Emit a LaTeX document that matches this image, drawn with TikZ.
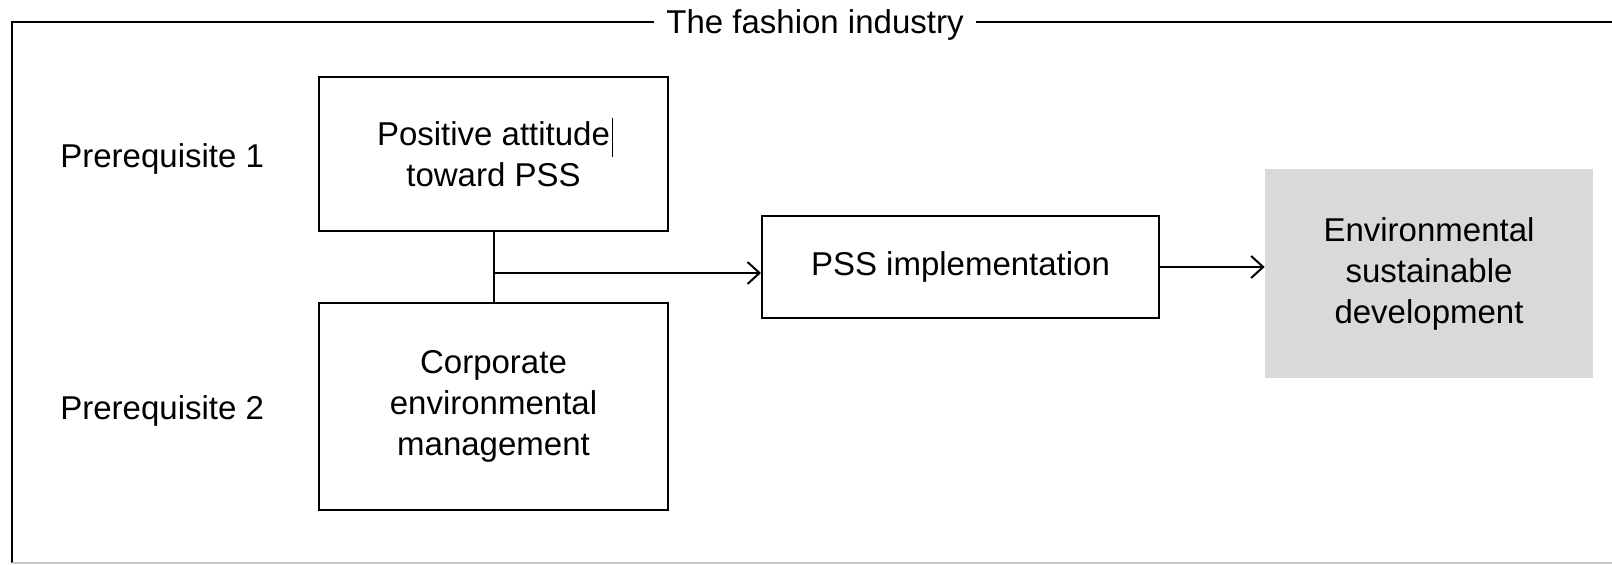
\documentclass[tikz,border=0pt]{standalone}
\usepackage{fontspec}
\setmainfont{Liberation Sans}
\usetikzlibrary{arrows.meta,calc}
\definecolor{GoalClr}{rgb}{0.851,0.851,0.851}
\definecolor{EdgeClr}{rgb}{0.78,0.78,0.78}
\tikzset{
  stage/.style={draw=black,line width=1pt,align=center,inner sep=0pt},
  goalbox/.style={fill=GoalClr,align=center,inner sep=0pt},
  plain/.style={inner sep=0pt,anchor=west},
  flow/.style={line width=1pt,-{Straight Barb[length=6pt,width=11pt]}}
}

\begin{document}
\begin{tikzpicture}[x=0.5pt,y=-0.5pt,font=\fontsize{16.5}{20.5}\selectfont]
\useasboundingbox (0,0) rectangle (1612,565);

% frame round the industry
\draw[line width=1pt] (1620,22) -- (12,22) -- (12,563);
\draw[EdgeClr,line width=0.8pt] (12,563) -- (1620,563);
\node[fill=white,inner xsep=6pt,inner ysep=2pt] (title) at (815,25) {The fashion industry};

% prerequisites
\node[plain] (pre1) at (60,159) {Prerequisite 1};
\node[plain] (pre2) at (60,411) {Prerequisite 2};

\node[stage,minimum width=174.5pt,minimum height=77pt] (attitude) at (493.5,154)
  {Positive attitude\\toward PSS};
\node[stage,minimum width=174.5pt,minimum height=103.5pt] (cem) at (493.5,406.5)
  {Corporate\\environmental\\management};
\node[stage,minimum width=198.5pt,minimum height=51pt] (pss) at (960.5,267)
  {PSS implementation};
\node[goalbox,minimum width=164pt,minimum height=104.5pt] (goal) at (1429,273.5)
  {Environmental\\sustainable\\development};

% stray text cursor
\draw[line width=0.5pt] (612,118) -- (612,157);

\coordinate (junc) at ($(attitude.south)+(0,41)$);
\draw[line width=1pt] (attitude.south) -- (cem.north);
\draw[flow] (junc) -- (junc -| pss.west);
\draw[flow] (pss.east) -- (pss.east -| goal.west);

\end{tikzpicture}
\end{document}
